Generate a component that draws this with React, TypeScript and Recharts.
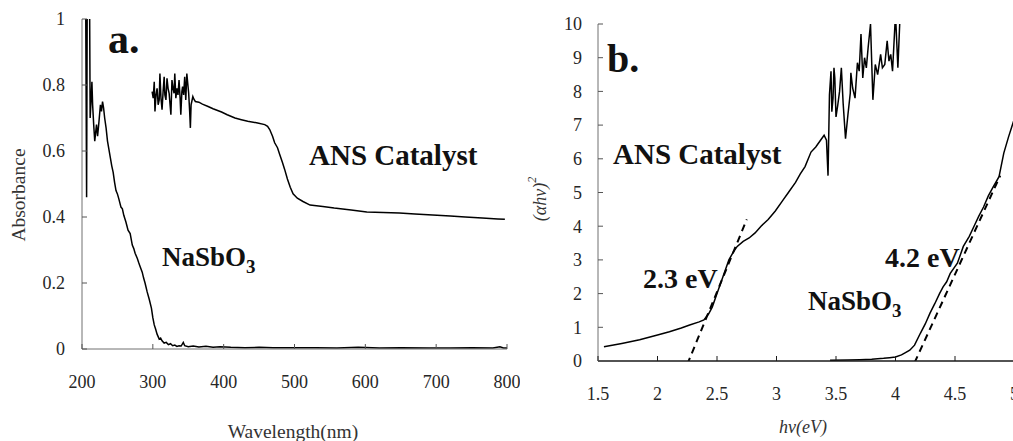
import React from "react";
import { LineChart, Line, XAxis, YAxis } from "recharts";

// Panel a: UV-vis absorbance spectra [wavelength (nm), absorbance]
const nasbo3Absorbance: [number, number][] = [
  [205, 1.15], [206.5, 0.46], [207.5, 1.15], [210.5, 1.15], [211.5, 0.7], [213, 0.76], [214, 0.81],
  [215, 0.74], [216.5, 0.68], [218, 0.63], [219.5, 0.66], [220.5, 0.68], [222, 0.645], [224, 0.69],
  [226, 0.74], [227.5, 0.72], [229, 0.75], [230.5, 0.73], [232, 0.7], [234, 0.67], [236, 0.63],
  [238, 0.605], [240, 0.58], [242, 0.555], [244, 0.535], [246, 0.505], [248, 0.48], [250, 0.47],
  [252, 0.455], [255, 0.43], [257, 0.425], [259, 0.405], [262, 0.385], [265, 0.36], [268, 0.35],
  [271, 0.315], [273, 0.305], [275, 0.29], [278, 0.275], [280, 0.262], [282, 0.25], [285, 0.233],
  [287, 0.215], [289, 0.2], [292, 0.173], [295, 0.15], [298, 0.124], [300, 0.095], [302, 0.073],
  [304, 0.06], [306, 0.045], [309, 0.03], [311, 0.033], [313, 0.025], [316, 0.018], [319, 0.02],
  [322, 0.013], [325, 0.016], [328, 0.01], [331, 0.012], [334, 0.008], [337, 0.01], [340, 0.009],
  [343, 0.02], [345, 0.01], [350, 0.007], [357, 0.009], [365, 0.006], [375, 0.008], [385, 0.005],
  [395, 0.007], [410, 0.005], [430, 0.004], [450, 0.005], [470, 0.004], [500, 0.004], [530, 0.004],
  [560, 0.003], [590, 0.005], [620, 0.003], [650, 0.004], [690, 0.003], [720, 0.003], [750, 0.004],
  [780, 0.003], [790, 0.007], [795, 0.003], [800, 0.003],
];

const ansAbsorbance: [number, number][] = [
  [299, 0.78], [300.5, 0.76], [302, 0.81], [303, 0.72], [304.5, 0.77], [306, 0.79], [307.5, 0.74],
  [309, 0.755], [310, 0.835], [311.5, 0.76], [313, 0.725], [314.5, 0.78], [316, 0.825], [317, 0.77],
  [318.5, 0.755], [320, 0.82], [321.5, 0.79], [323, 0.775], [325.5, 0.71], [327, 0.815], [328.5, 0.79],
  [330, 0.775], [331, 0.835], [332.5, 0.76], [334, 0.79], [335.5, 0.77], [337, 0.815], [338.5, 0.76],
  [339.5, 0.71], [341, 0.78], [342, 0.795], [343.5, 0.77], [345, 0.825], [346.5, 0.755], [348, 0.835],
  [349.5, 0.8], [350.6, 0.775], [352, 0.72], [353, 0.67], [354, 0.74], [355, 0.75], [356.5, 0.765],
  [358, 0.757], [360, 0.75], [365, 0.748], [370, 0.742], [378, 0.735], [385, 0.728], [397, 0.718],
  [405, 0.71], [416, 0.7], [425, 0.695], [434, 0.69], [448, 0.685], [458, 0.68], [462, 0.675],
  [465, 0.665], [469, 0.645], [472, 0.625], [476, 0.61], [479, 0.59], [483, 0.565], [486, 0.545],
  [490, 0.515], [494, 0.49], [498, 0.47], [504, 0.457], [512, 0.447], [522, 0.436], [540, 0.432],
  [556, 0.427], [580, 0.421], [602, 0.415], [625, 0.414], [648, 0.412], [670, 0.409], [695, 0.406],
  [720, 0.403], [741, 0.4], [765, 0.397], [787, 0.394], [797, 0.393],
];

// Panel b: Tauc plot [photon energy (eV), (αhν)^2]
const ansTauc: [number, number][] = [
  [1.55, 0.42], [1.7, 0.52], [1.85, 0.63], [2.0, 0.77], [2.1, 0.87], [2.2, 0.98], [2.27, 1.07],
  [2.35, 1.16], [2.39, 1.22], [2.43, 1.4], [2.46, 1.6], [2.5, 2.0], [2.53, 2.3], [2.57, 2.7],
  [2.6, 3.0], [2.64, 3.25], [2.67, 3.4], [2.72, 3.55], [2.77, 3.65], [2.82, 3.8], [2.87, 4.0],
  [2.93, 4.2], [2.99, 4.45], [3.05, 4.75], [3.1, 5.0], [3.16, 5.3], [3.2, 5.55], [3.24, 5.77],
  [3.29, 6.2], [3.33, 6.35], [3.37, 6.55], [3.4, 6.7], [3.42, 6.55], [3.433, 5.5], [3.445, 7.9],
  [3.458, 8.6], [3.465, 7.4], [3.475, 7.8], [3.483, 8.7], [3.49, 8.4], [3.5, 7.24], [3.515, 7.6],
  [3.53, 8.0], [3.545, 8.7], [3.56, 7.65], [3.58, 6.6], [3.6, 7.3], [3.62, 7.95], [3.625, 8.55],
  [3.64, 8.1], [3.66, 7.8], [3.68, 8.85], [3.695, 8.6], [3.71, 9.7], [3.725, 8.4], [3.74, 9.0],
  [3.755, 8.7], [3.77, 9.3], [3.79, 10.0], [3.81, 7.75], [3.83, 8.8], [3.85, 8.5], [3.875, 9.1],
  [3.89, 8.7], [3.91, 8.8], [3.93, 9.5], [3.945, 8.9], [3.96, 9.1], [3.975, 8.6], [4.0, 10.3],
  [4.02, 8.7], [4.04, 10.4], [4.06, 10.8],
];

const nasbo3Tauc: [number, number][] = [
  [3.45, 0.02], [3.6, 0.03], [3.7, 0.04], [3.8, 0.05], [3.9, 0.08], [3.95, 0.1], [4.0, 0.12],
  [4.05, 0.18], [4.08, 0.24], [4.12, 0.32], [4.16, 0.47], [4.21, 0.83], [4.25, 1.1], [4.29, 1.42],
  [4.33, 1.7], [4.37, 2.0], [4.4, 2.2], [4.43, 2.35], [4.46, 2.6], [4.52, 2.9], [4.57, 3.4],
  [4.62, 3.7], [4.66, 4.0], [4.7, 4.3], [4.74, 4.57], [4.78, 4.9], [4.82, 5.16], [4.87, 5.47],
  [4.91, 6.17], [4.95, 6.65], [5.0, 7.2],
];

// Linear extrapolations of the absorption edges
const ansEdgeFit: [number, number][] = [[2.25, -0.1], [2.75, 4.2]];
const nasbo3EdgeFit: [number, number][] = [[4.16, -0.05], [4.88, 5.5]];

const wavelengthTicks = [200, 300, 400, 500, 600, 700, 800];
const absorbanceTicks = [0, 0.2, 0.4, 0.6, 0.8, 1];
const energyTicks = [1.5, 2, 2.5, 3, 3.5, 4, 4.5, 5];
const taucTicks = [0, 1, 2, 3, 4, 5, 6, 7, 8, 9, 10];

const toRows = (pts: [number, number][]) => pts.map(([x, y]) => ({ x, y }));

const FONT = '"Liberation Serif", "Times New Roman", serif';
const AXIS = "#707070";
const TICK_COLOR = "#555";
const TICK_LEN = 5;
const X_GAP = 26;
const Y_GAP = 17;

// Bottom-axis tick: short mark pointing into the plot, label below the axis
const BottomTick = (props: any) => {
  const { x, y, payload, markColor } = props;
  const axisY = y - X_GAP;
  return (
    <g>
      <line x1={x} x2={x} y1={axisY} y2={axisY - TICK_LEN} stroke={markColor || TICK_COLOR} strokeWidth={1} />
      <text x={x} y={y} dy="0.71em" textAnchor="middle" fontFamily={FONT} fontSize={18} fill="#262626">
        {payload.value}
      </text>
    </g>
  );
};

// Left-axis tick: short mark pointing into the plot, label to the left
const LeftTick = (props: any) => {
  const { x, y, payload, gap } = props;
  const axisX = x + (gap ?? Y_GAP);
  return (
    <g>
      <line x1={axisX} x2={axisX + TICK_LEN} y1={y} y2={y} stroke={TICK_COLOR} strokeWidth={1} />
      <text x={x} y={y} dy="0.355em" textAnchor="end" fontFamily={FONT} fontSize={18} fill="#262626">
        {payload.value}
      </text>
    </g>
  );
};

export default function App() {
  return (
    <div
      style={{
        position: "absolute",
        left: 0,
        top: 0,
        width: 1013,
        height: 441,
        overflow: "hidden",
        background: "#fff",
        fontFamily: FONT,
      }}
    >
      <div style={{ position: "absolute", left: 0, top: 0 }}>
        <LineChart width={520} height={441} margin={{ top: 19, right: 13, left: 0, bottom: 0 }}>
          <XAxis
            dataKey="x"
            type="number"
            domain={[200, 800]}
            ticks={wavelengthTicks}
            interval={0}
            allowDataOverflow
            height={92}
            tickSize={0}
            tickLine={false}
            tickMargin={X_GAP}
            stroke={AXIS}
            tick={<BottomTick />}
          />
          <XAxis xAxisId="top" orientation="top" type="number" domain={[200, 800]} height={0} tick={false} tickLine={false} stroke={AXIS} />
          <YAxis
            type="number"
            domain={[0, 1]}
            ticks={absorbanceTicks}
            interval={0}
            allowDataOverflow
            width={82}
            tickSize={0}
            tickLine={false}
            tickMargin={Y_GAP}
            stroke={AXIS}
            tick={<LeftTick gap={Y_GAP} />}
          />
          <YAxis yAxisId="right" orientation="right" type="number" domain={[0, 1]} width={0} tick={false} tickLine={false} stroke={AXIS} />
          <Line data={toRows(nasbo3Absorbance)} dataKey="y" stroke="#000" strokeWidth={1.5} dot={false} isAnimationActive={false} />
          <Line data={toRows(ansAbsorbance)} dataKey="y" stroke="#000" strokeWidth={1.5} dot={false} isAnimationActive={false} />
        </LineChart>
      </div>

      <div style={{ position: "absolute", left: 530, top: 0 }}>
        <LineChart width={500} height={441} margin={{ top: 24, right: 15.5, left: 0, bottom: 0 }}>
          <XAxis
            dataKey="x"
            type="number"
            domain={[1.5, 5]}
            ticks={energyTicks}
            interval={0}
            allowDataOverflow
            height={80}
            tickSize={0}
            tickLine={false}
            tickMargin={X_GAP}
            stroke="#1a1a1a"
            strokeWidth={1.5}
            tick={<BottomTick markColor="#1a1a1a" />}
          />
          <XAxis xAxisId="top" orientation="top" type="number" domain={[1.5, 5]} height={0} tick={false} tickLine={false} stroke={AXIS} />
          <YAxis
            type="number"
            domain={[0, 10]}
            ticks={taucTicks}
            interval={0}
            allowDataOverflow
            width={68}
            tickSize={0}
            tickLine={false}
            tickMargin={Y_GAP - 1}
            stroke={AXIS}
            tick={<LeftTick gap={Y_GAP - 1} />}
          />
          <Line data={toRows(ansTauc)} dataKey="y" stroke="#000" strokeWidth={1.5} dot={false} isAnimationActive={false} />
          <Line data={toRows(nasbo3Tauc)} dataKey="y" stroke="#000" strokeWidth={1.5} dot={false} isAnimationActive={false} />
          <Line data={toRows(ansEdgeFit)} dataKey="y" stroke="#000" strokeWidth={2} strokeDasharray="7 5" dot={false} isAnimationActive={false} />
          <Line data={toRows(nasbo3EdgeFit)} dataKey="y" stroke="#000" strokeWidth={2} strokeDasharray="7 5" dot={false} isAnimationActive={false} />
        </LineChart>
      </div>

      <svg
        width={1013}
        height={441}
        style={{ position: "absolute", left: 0, top: 0, pointerEvents: "none" }}
        fontFamily={FONT}
      >
        <g fontWeight="bold" fill="#111">
          <text x={108} y={53} fontSize={42}>a.</text>
          <text x={309} y={165} fontSize={29}>ANS Catalyst</text>
          <text x={162} y={266} fontSize={27}>
            NaSbO<tspan fontSize={19} dy={7}>3</tspan>
          </text>
          <text x={607} y={72} fontSize={40}>b.</text>
          <text x={613} y={164} fontSize={29}>ANS Catalyst</text>
          <text x={643} y={288} fontSize={28}>2.3 eV</text>
          <text x={885} y={267} fontSize={28}>4.2 eV</text>
          <text x={808} y={310} fontSize={27}>
            NaSbO<tspan fontSize={19} dy={7}>3</tspan>
          </text>
        </g>
        <g fill="#333">
          <text x={0} y={0} fontSize={19.5} textAnchor="middle" dominantBaseline="central" transform="translate(18.5,195) rotate(-90)">
            Absorbance
          </text>
          <text x={293} y={438} fontSize={19.5} textAnchor="middle">Wavelength(nm)</text>
          <text x={0} y={0} fontSize={18} fontStyle="italic" textAnchor="middle" dominantBaseline="central" transform="translate(540,199) rotate(-90)">
            (αhν)<tspan fontSize={12} dy={-8}>2</tspan>
          </text>
          <text x={803} y={433} fontSize={18} fontStyle="italic" textAnchor="middle">hν(eV)</text>
        </g>
      </svg>
    </div>
  );
}
